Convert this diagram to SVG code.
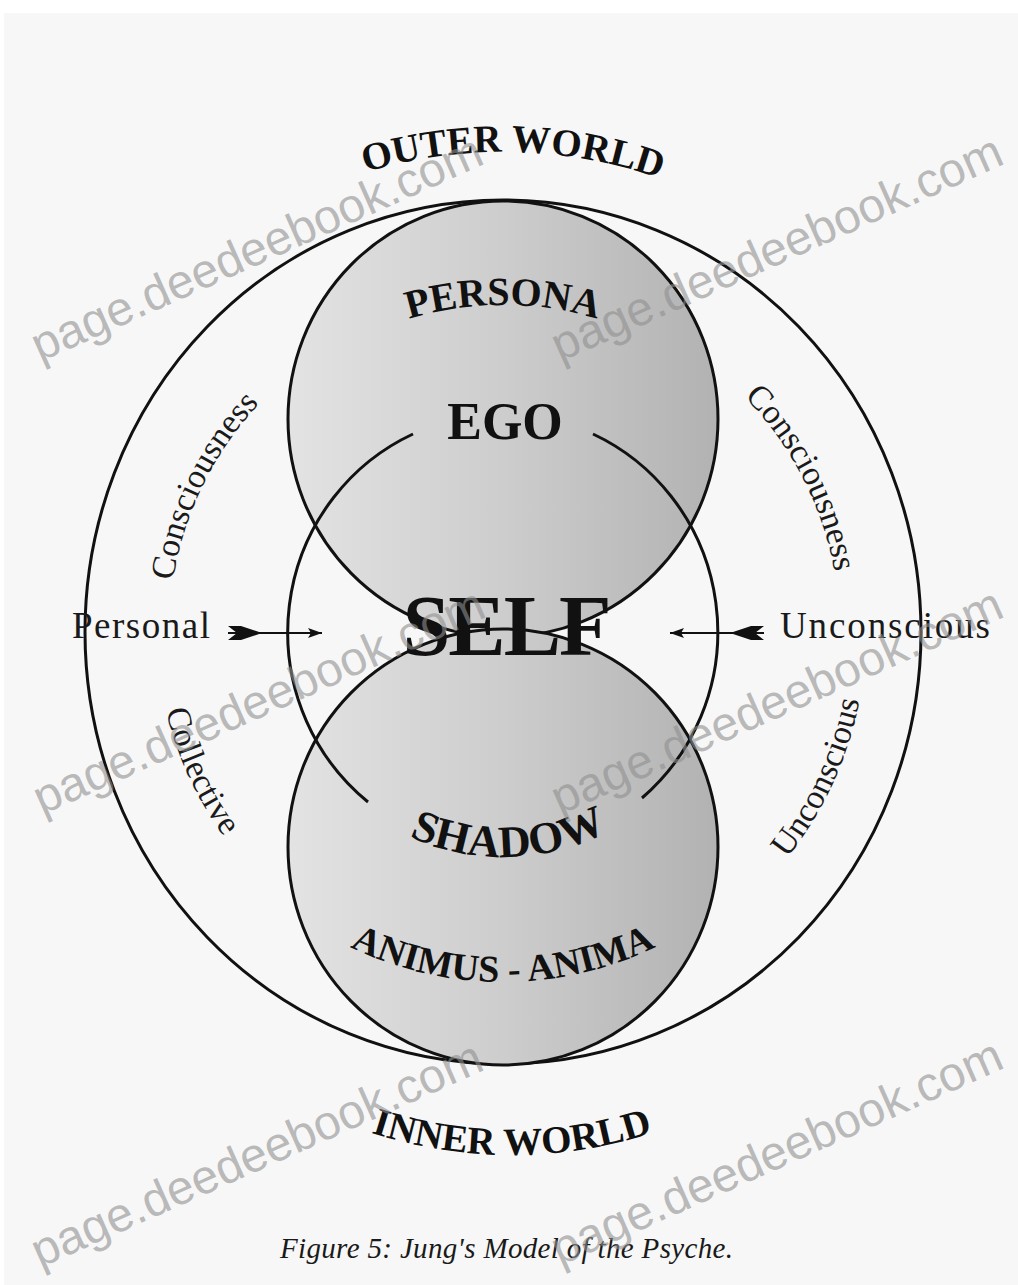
<svg xmlns="http://www.w3.org/2000/svg" width="1018" height="1285" viewBox="0 0 1018 1285">
<style>
.ln{fill:none;stroke:#111;stroke-width:3}
.big{font-family:"Liberation Serif","DejaVu Serif",serif;font-weight:bold;fill:#111}
.lab{font-family:"Liberation Serif","DejaVu Serif",serif;fill:#1a1a1a}
.wm{font-family:"Liberation Sans",Arial,sans-serif;font-size:48px;fill:#8f8f8f;fill-opacity:0.6}
</style>
<defs>
<linearGradient id="shade" x1="0" y1="0" x2="1" y2="0">
<stop offset="0" stop-color="#e3e3e3"/>
<stop offset="0.5" stop-color="#cdcdcd"/>
<stop offset="1" stop-color="#b2b2b2"/>
</linearGradient>
<marker id="head" viewBox="0 0 14 10" refX="14" refY="5" markerWidth="14" markerHeight="10" markerUnits="userSpaceOnUse" orient="auto"><path d="M0,0 L14,5 L0,10 L3,5 Z" fill="#111"/></marker>
<marker id="tail" viewBox="0 0 34 14" refX="0" refY="7" markerWidth="34" markerHeight="14" markerUnits="userSpaceOnUse" orient="auto"><path d="M0,0 L13,0 L34,7 L13,14 L0,14 L9,7 Z" fill="#111"/></marker>
<path id="pOuter" d="M202.2,257.9 A480,480 0 0 1 819.2,270.8"/>
<path id="pInner" d="M319.7,1112.4 A455,455 0 0 0 704.3,1112.4"/>
<path id="pPersona" d="M339.5,348.8 A327,327 0 0 1 666.5,348.8"/>
<path id="pShadow" d="M378.8,819.6 A225,225 0 0 0 636.8,812.9"/>
<path id="pAnimus" d="M302.3,918.7 A350,350 0 0 0 703.7,918.7"/>
<path id="pConsL" d="M169.8,655.3 A334,334 0 0 1 316.2,355.1"/>
<path id="pConsR" d="M685.1,348.4 A337,337 0 0 1 839.6,647.9"/>
<path id="pColl" d="M158.5,600 A346,346 0 0 0 303,914.4"/>
<path id="pUncR" d="M712.8,928.2 A363,363 0 0 0 864.4,598.5"/>
</defs>
<rect x="0" y="0" width="1018" height="1285" fill="#ffffff"/>
<rect x="4" y="13" width="1014" height="1272" fill="#f7f7f7"/>

<g id="psyche-outer">
<ellipse class="ln" cx="503" cy="632" rx="418" ry="432" stroke-width="2.6"/>
<text class="big" font-size="39"><textPath href="#pOuter" startOffset="50%" text-anchor="middle">OUTER WORLD</textPath></text>
<text class="big" font-size="39"><textPath href="#pInner" startOffset="50%" text-anchor="middle">INNER WORLD</textPath></text>
<text class="lab" font-size="34"><textPath href="#pConsL" startOffset="50%" text-anchor="middle">Consciousness</textPath></text>
<text class="lab" font-size="34"><textPath href="#pConsR" startOffset="50%" text-anchor="middle">Consciousness</textPath></text>
<text class="lab" font-size="34"><textPath href="#pColl" startOffset="50%" text-anchor="middle">Collective</textPath></text>
<text class="lab" font-size="34"><textPath href="#pUncR" startOffset="50%" text-anchor="middle">Unconscious</textPath></text>
<text class="lab" font-size="37" x="72" y="638" textLength="138">Personal</text>
<text class="lab" font-size="37" x="780" y="638" textLength="210">Unconscious</text>
</g>

<g id="persona-ego">
<ellipse cx="503" cy="419" rx="215" ry="218" fill="url(#shade)"/>
<ellipse class="ln" cx="503" cy="419" rx="215" ry="218"/>
<text class="big" font-size="40"><textPath href="#pPersona" startOffset="50%" text-anchor="middle">PERSONA</textPath></text>
<text class="big" font-size="52" x="505" y="439" text-anchor="middle">EGO</text>
</g>

<g id="shadow-anima">
<ellipse cx="503" cy="847" rx="215" ry="218" fill="url(#shade)"/>
<ellipse class="ln" cx="503" cy="847" rx="215" ry="218"/>
<text class="big" font-size="45"><textPath href="#pShadow" startOffset="50%" text-anchor="middle">SHADOW</textPath></text>
<text class="big" font-size="38"><textPath href="#pAnimus" startOffset="50%" text-anchor="middle">ANIMUS - ANIMA</textPath></text>
</g>

<g id="self">
<path class="ln" stroke-width="3.4" d="M413,434 A215,218 0 0 0 368,802"/>
<path class="ln" stroke-width="3.4" d="M593,434 A215,218 0 0 1 642,798"/>
<text class="big" font-size="86" x="506" y="655" text-anchor="middle" letter-spacing="-2">SELF</text>
</g>

<g id="connectors">
<line x1="228" y1="633" x2="322" y2="633" stroke="#111" stroke-width="2" marker-start="url(#tail)" marker-end="url(#head)"/>
<line x1="764" y1="633" x2="670" y2="633" stroke="#111" stroke-width="2" marker-start="url(#tail)" marker-end="url(#head)"/>
</g>

<g id="caption">
<text class="lab" font-size="29" font-style="italic" x="280" y="1258" textLength="453">Figure 5: Jung's Model of the Psyche.</text>
</g>

<g id="watermark">
<text class="wm" transform="translate(40,362) rotate(-24)">page.deedeebook.com</text>
<text class="wm" transform="translate(560,362) rotate(-24)">page.deedeebook.com</text>
<text class="wm" transform="translate(42,815) rotate(-24)">page.deedeebook.com</text>
<text class="wm" transform="translate(560,815) rotate(-24)">page.deedeebook.com</text>
<text class="wm" transform="translate(40,1268) rotate(-24)">page.deedeebook.com</text>
<text class="wm" transform="translate(560,1266) rotate(-24)">page.deedeebook.com</text>
</g>
</svg>
